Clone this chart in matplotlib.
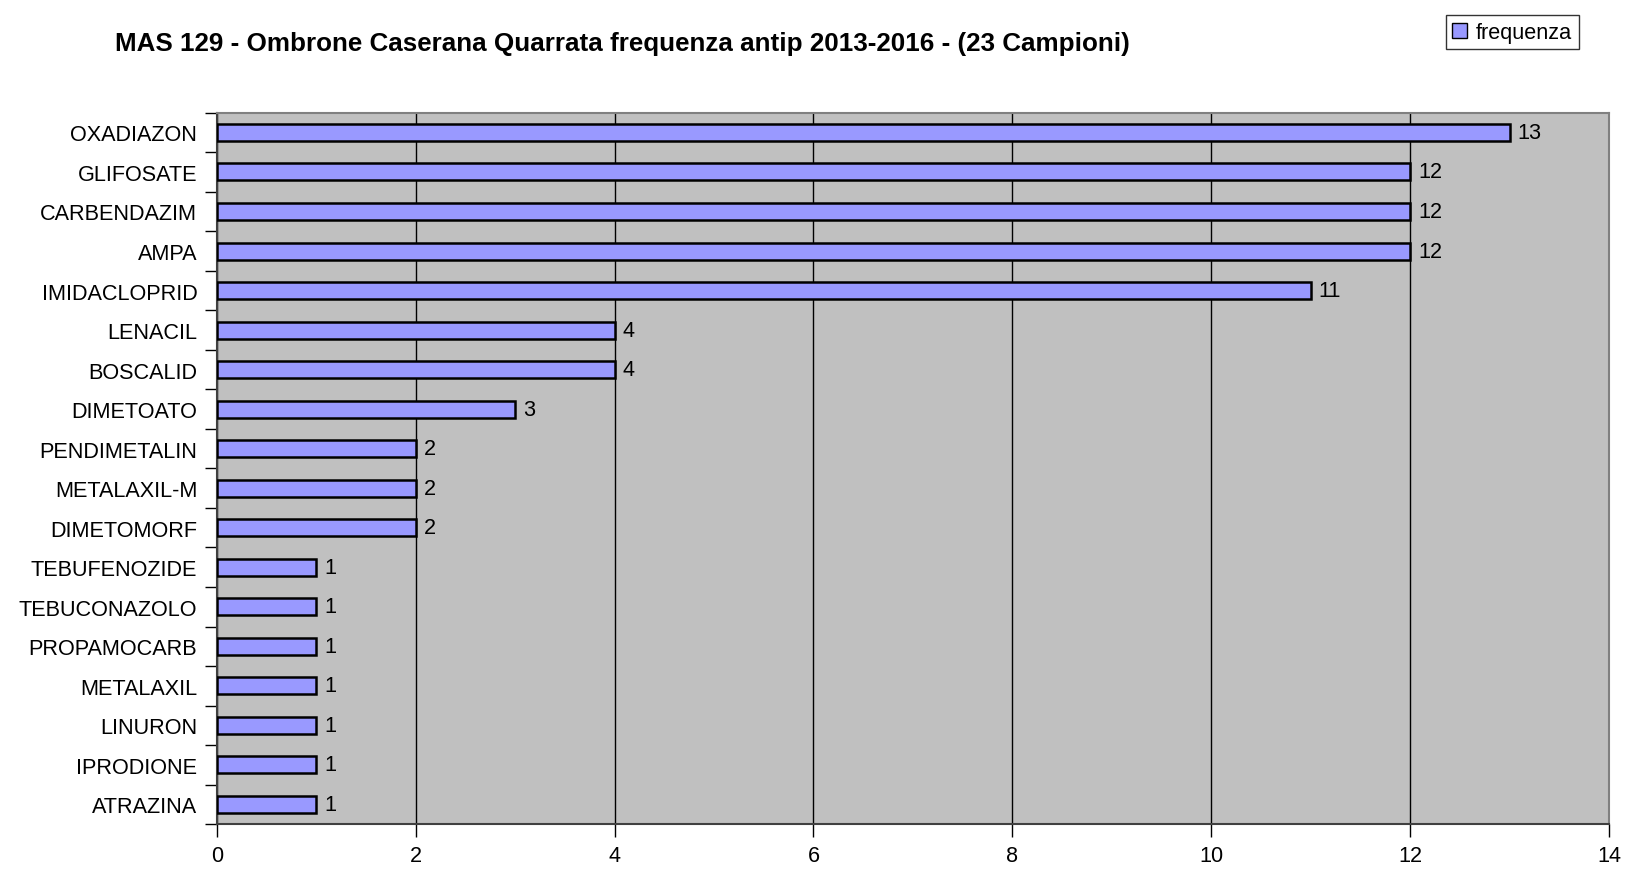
import numpy as np
import matplotlib.pyplot as plt
from matplotlib.patches import Patch

#Data (top to bottom)
composti = ["OXADIAZON", "GLIFOSATE", "CARBENDAZIM", "AMPA", "IMIDACLOPRID",
            "LENACIL", "BOSCALID", "DIMETOATO", "PENDIMETALIN", "METALAXIL-M",
            "DIMETOMORF", "TEBUFENOZIDE", "TEBUCONAZOLO", "PROPAMOCARB",
            "METALAXIL", "LINURON", "IPRODIONE", "ATRAZINA"]
frequenza = [13, 12, 12, 12, 11, 4, 4, 3, 2, 2, 2, 1, 1, 1, 1, 1, 1, 1]
x_ticks = [0, 2, 4, 6, 8, 10, 12, 14]

titolo = "MAS 129 - Ombrone Caserana Quarrata frequenza antip 2013-2016 - (23 Campioni)"

plt.rcParams['font.family'] = ['Liberation Sans', 'DejaVu Sans']
fs = 15.6

fig = plt.figure(figsize=(16.42, 8.95), dpi=100)
ax = fig.add_axes([0.132, 0.078, 0.848, 0.795])

ax.set_facecolor("#C0C0C0")
y = np.arange(len(composti))
ax.barh(y, frequenza, height=0.43, color="#9999FF", edgecolor="black",
        linewidth=1.8, zorder=3, label="frequenza")

#value labels right of each bar
for yi, val in zip(y, frequenza):
    ax.text(val + 0.08, yi, str(val), va="center", ha="left", fontsize=fs, zorder=4)

ax.set_xlim(0, 14)
ax.set_ylim(len(composti) - 0.5, -0.5)
ax.set_xticks(x_ticks)
ax.set_xticklabels([str(t) for t in x_ticks], fontsize=fs)
ax.xaxis.grid(True, color="black", linewidth=1.0, zorder=1)
ax.set_axisbelow(True)

#category labels at bar centres, tick marks at boundaries
ax.set_yticks(y)
ax.set_yticklabels(composti, fontsize=fs)
ax.tick_params(axis="y", which="major", length=0, pad=14)
ax.set_yticks(np.arange(len(composti) + 1) - 0.5, minor=True)
ax.tick_params(axis="y", which="minor", length=9, width=1, direction="out")
ax.tick_params(axis="x", which="major", length=9, width=1, direction="out", pad=6)

for side in ["top", "right"]:
    ax.spines[side].set_color("#808080")
    ax.spines[side].set_linewidth(1.5)
for side in ["left", "bottom"]:
    ax.spines[side].set_color("#404040")
    ax.spines[side].set_linewidth(1.5)

fig.text(0.070, 0.951, titolo, fontsize=18.7, fontweight="bold", ha="left", va="center")

handle = Patch(facecolor="#9999FF", edgecolor="black", linewidth=1.0)
fig.legend([handle], ["frequenza"], loc="upper right", bbox_to_anchor=(0.968, 0.994),
           fontsize=fs, frameon=True, fancybox=False, edgecolor="black",
           handlelength=0.7, handleheight=0.7, handletextpad=0.4, borderpad=0.3)

fig.savefig("out.png", dpi=100)
